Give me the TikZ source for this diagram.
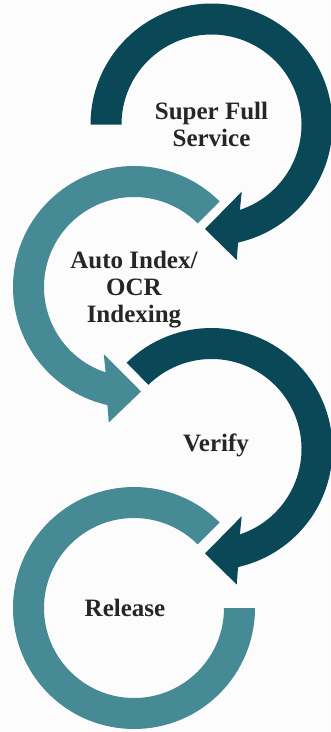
\documentclass[tikz,border=0pt]{standalone}
\usepackage{fontspec}
\setmainfont{Liberation Serif}
\usetikzlibrary{calc}
\definecolor{darkteal}{RGB}{11,72,87}
\definecolor{lightteal}{RGB}{70,138,150}
\definecolor{labeltext}{RGB}{38,38,38}
\definecolor{bgcol}{RGB}{252,252,252}
\tikzset{
  darkring/.style={fill=darkteal},
  lightring/.style={fill=lightteal},
  steplabel/.style={align=center, text=labeltext, inner sep=0pt,
    font=\bfseries\fontsize{25}{26.7}\selectfont},
}
\begin{document}
\begin{tikzpicture}[x=1pt,y=1pt]
\fill[bgcol] (0,0) rectangle (330,-732);
\useasboundingbox (0,0) rectangle (330,-732);
\coordinate (c1) at (211.5,-124.5);
\coordinate (c2) at (134,-287);
\coordinate (c3) at (211.5,-449);
\coordinate (c4) at (134,-608);
% ring 1
\path[darkring] ($(c1)+(180:121)$) arc[start angle=180, end angle=-77.3, radius=121]
  -- ($(c1)+(25.2,-135.5)$) -- ($(c1)+(-6.5,-104.5)$) -- ($(c1)+(30.2,-67.2)$)
  -- ($(c1)+(-71.6:90)$) arc[start angle=-71.6, end angle=180, radius=90] -- cycle;
% ring 2
\path[lightring] ($(c2)+(45:121)$) arc[start angle=45, end angle=257.3, radius=121]
  -- ($(c2)+(-25.2,-135.5)$) -- ($(c2)+(7,-104.5)$) -- ($(c2)+(-30.2,-67.2)$)
  -- ($(c2)+(251.6:90)$) arc[start angle=251.6, end angle=45, radius=90] -- cycle;
% ring 3
\path[darkring] ($(c3)+(134.5:121)$) arc[start angle=134.5, end angle=-77.3, radius=121]
  -- ($(c3)+(25.2,-135.5)$) -- ($(c3)+(-6.5,-104.5)$) -- ($(c3)+(30.2,-67.2)$)
  -- ($(c3)+(-71.6:90)$) arc[start angle=-71.6, end angle=134.5, radius=90] -- cycle;
% ring 4
\path[lightring] ($(c4)+(45:121)$) arc[start angle=45, end angle=360, radius=121]
  -- ($(c4)+(0:90)$) arc[start angle=360, end angle=45, radius=90] -- cycle;
% labels
\node[steplabel] (t1) at (211.5,-124.5) {Super Full\\Service};
\node[steplabel] (t2) at (134,-289.4) {Auto Index/\\OCR\\Indexing};
\node[steplabel] (t3) at (216,-445.6) {Verify};
\node[steplabel] (t4) at (125,-608.3) {Release};
\end{tikzpicture}
\end{document}
